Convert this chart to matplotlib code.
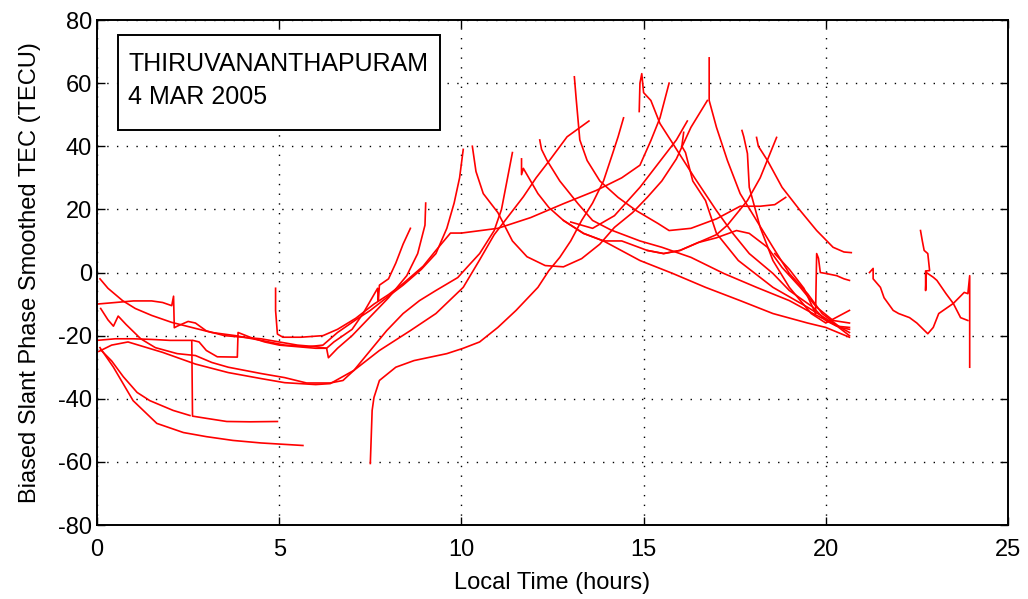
import matplotlib.pyplot as plt
from matplotlib.patches import Rectangle

plt.rcParams['font.family'] = ['Liberation Sans', 'DejaVu Sans']
plt.rcParams['axes.unicode_minus'] = False

station = 'THIRUVANANTHAPURAM'
date_str = '4 MAR 2005'

# slant TEC passes, local time (hours) vs TEC (TECU)
t_p01 = [0.08, 0.3, 0.7, 1.05, 1.5, 2.05, 2.7, 3.15, 3.8, 4.5, 5.15, 5.8, 6.2, 6.6, 7.1, 7.5, 8.0, 8.4, 8.9, 9.3, 9.6, 9.8, 9.95, 10.05]
tec_p01 = [-2, -5, -8.9, -11.4, -13.6, -15.8, -17.7, -19, -20, -21.5, -23, -23.5, -23, -19, -15, -12, -7.5, -4, 1, 6, 14, 22, 30, 39]

t_p02 = [4.9, 4.9, 4.95, 5.1, 5.6, 6.2, 6.6, 7.1, 7.6, 8.0, 8.4, 8.95, 9.3, 9.7, 10.0, 11.0, 11.9, 12.8, 13.7, 14.4, 14.9, 15.2, 15.45, 15.7]
tec_p02 = [-5, -12, -19.5, -20.5, -20.5, -20, -18, -14.5, -10, -7, -3.5, 2, 7, 12.5, 12.5, 14, 17.4, 21.8, 26, 30, 34, 41.8, 49, 60]

t_p03 = [0, 0.5, 1, 1.5, 1.8, 2.05, 2.1, 2.12, 2.2, 2.5, 2.7, 3, 3.5, 4, 4.5, 5, 5.5, 6, 6.3, 6.5, 7, 7.3, 7.7, 7.72, 7.75, 8, 8.2, 8.4, 8.6]
tec_p03 = [-10, -9.5, -9, -9, -9.5, -10.5, -7.5, -17.5, -17, -15.5, -16, -18.5, -20, -20.5, -21, -22, -23, -23.5, -24, -22, -18, -13, -5, -9, -4, -2, 3, 9, 14]

t_p04 = [0, 0.5, 1, 1.5, 2, 2.6, 2.62, 3, 3.56, 4.2, 4.95]
tec_p04 = [-21.5, -21, -21, -21.2, -21.5, -21.5, -45.5, -46.2, -47.2, -47.3, -47.2]

t_p05 = [0.1, 0.4, 0.72, 1.1, 1.45, 2.09, 2.55]
tec_p05 = [-24.5, -28, -33, -38, -40.6, -43.7, -45.3]

t_p06 = [2.63, 2.8, 3.0, 3.3, 3.85, 3.87, 4.2, 4.6, 5.0, 5.5, 6.0, 6.3, 6.35, 6.6, 7.0, 7.5, 8.0, 8.5, 8.8, 9.0, 9.02]
tec_p06 = [-21.5, -22, -24.7, -26.7, -26.8, -19, -20.5, -22, -23, -23.5, -24, -24, -27, -24, -20, -14, -8, -1, 6, 15, 22]

t_p07 = [0.08, 0.45, 0.99, 1.64, 2.37, 3.0, 3.73, 4.5, 5.65]
tec_p07 = [-23.8, -30, -40.6, -47.8, -50.7, -52, -53.2, -54, -54.8]

t_p08 = [0.1, 0.3, 0.45, 0.58, 0.8, 1.2, 1.6, 2.2, 2.7, 3.15, 3.6, 4.05, 4.5, 5.15, 5.75, 6.4, 6.75, 7.05, 7.5, 7.95, 8.4, 8.85, 9.3, 9.9, 10.15, 10.5, 10.9, 11.1, 11.25, 11.4]
tec_p08 = [-11.4, -15, -17, -13.8, -16.5, -21, -23.8, -25.7, -26.3, -28.5, -30, -31, -32, -33.3, -35, -35, -34.2, -31, -24.7, -18.4, -13, -8.9, -5.7, -1.6, 1.6, 6, 13.3, 20, 29, 38]

t_p09 = [0.05, 0.4, 0.85, 1.8, 2.7, 3.6, 4.5, 5.15, 6.0, 6.4, 7.05, 7.75, 8.6, 9.3, 10.05, 10.5, 10.9, 11.3, 11.7, 12.05, 12.45, 12.9, 13.5]
tec_p09 = [-25, -23, -22, -25.3, -29, -31.7, -33.6, -34.9, -35.5, -35.2, -31, -24.7, -18.4, -13, -4.7, 4, 12, 18, 24, 30, 36, 43, 48]

t_p10 = [7.5, 7.55, 7.6, 7.75, 8.2, 8.7, 9.6, 10.05, 10.5, 11, 11.5, 12.1, 12.4, 12.7, 13, 13.3, 13.6, 13.9, 14.15, 14.3, 14.45]
tec_p10 = [-60.5, -43.7, -39.6, -34.2, -30, -27.9, -25.7, -24, -22, -17.4, -12, -4.7, 0.6, 4.8, 10, 16.5, 22, 29, 37.7, 43, 49]

t_p11 = [10.3, 10.4, 10.6, 11, 11.4, 11.8, 12.3, 12.8, 13.3, 13.8, 14.2, 14.7, 15.1, 15.5, 15.9, 16.3, 16.75]
tec_p11 = [40, 32, 25, 19, 10, 5, 2.2, 1.8, 4.4, 9, 14.3, 19, 23.8, 29, 36, 46, 54.5]

t_p12 = [11.65, 11.65, 11.7, 11.8, 12.1, 12.4, 12.8, 13.35, 13.9, 14.4, 15.1, 15.55, 16, 16.5, 17, 17.55, 17.9, 18.4, 18.8, 19.3, 19.75, 20.2, 20.65]
tec_p12 = [36, 31, 33, 31, 25, 20.6, 16.5, 12.4, 10, 10, 7, 6, 7, 9.5, 11, 13.3, 12.4, 8, 1.6, -4.7, -11, -15.2, -16]

t_p13 = [12.15, 12.2, 12.35, 12.7, 13.2, 13.6, 14.1, 14.9, 15.5, 16.3, 17.2, 18.1, 19, 19.65, 20.4, 20.65]
tec_p13 = [42, 39, 35.5, 29, 21.8, 16.5, 13.5, 10, 8, 4.8, -0.3, -4.7, -8.9, -13, -17.4, -19]

t_p14 = [13.1, 13.15, 13.25, 13.45, 13.8, 14.3, 14.8, 15.4, 15.7, 16.3, 17, 17.65, 18.2, 18.6, 18.9]
tec_p14 = [62, 55, 42, 35.5, 29, 23.8, 19.6, 15.5, 13.3, 14, 17, 21, 21, 21.5, 23.8]

t_p15 = [14.88, 14.9, 14.95, 15.0, 15.2, 15.45, 15.8, 16.4, 17, 17.45, 17.9, 18.55, 19, 19.65, 20, 20.3, 20.65]
tec_p15 = [51, 60, 63, 57, 54.5, 47.2, 40.9, 30, 19.6, 12.4, 6, -0.3, -5.7, -11, -15.2, -17, -17.4]

t_p16 = [16.1, 16.05, 16.15, 16.35, 16.7, 17, 17.6, 18.55, 19.5, 20.2, 20.65]
tec_p16 = [44.4, 40, 38, 29, 22.8, 12.4, 3.8, -4.7, -11, -16, -20]

t_p17 = [16.8, 16.8, 17, 17.3, 17.65, 18.1, 18.55, 19, 19.5, 19.9, 20.4, 20.65]
tec_p17 = [68, 54.5, 46, 35.5, 25, 16.5, 8, -0.3, -6.7, -13, -17.4, -18]

t_p18 = [17.7, 17.75, 17.85, 17.9, 18.2, 18.55, 19, 19.6, 20, 20.65]
tec_p18 = [45, 43, 37.7, 27, 14.3, 3.8, -4.7, -13, -16, -12]

t_p19 = [18.1, 18.15, 18.4, 18.8, 19.3, 19.75, 20.2, 20.5, 20.7]
tec_p19 = [42.8, 40, 35.5, 27, 19.6, 13.3, 8, 6.5, 6.3]

t_p20 = [15.1, 15.55, 16, 16.5, 17, 17.3, 17.85, 18.2, 18.65]
tec_p20 = [7, 6, 7, 9.5, 12, 15, 22.8, 30, 42.8]

t_p21 = [13.0, 13.6, 14.2, 14.9, 15.5, 15.9, 16.2]
tec_p21 = [16, 14, 18, 27, 36, 42, 48]

t_p22 = [12.8, 13.35, 13.9, 14.9, 15.8, 16.7, 17.65, 18.55, 19.5, 20, 20.65]
tec_p22 = [16.5, 12.4, 10, 3.8, -0.3, -4.7, -8.9, -13, -16, -17.4, -20.5]

t_p23 = [18.6, 19.0, 19.4, 19.72, 19.75, 19.8, 19.85, 20.0, 20.3, 20.5, 20.65]
tec_p23 = [6, 1, -5, -13, 6, 4.5, 0, -0.3, -1, -2, -2.5]

t_p24 = [21.2, 21.3, 21.3, 21.5, 21.6, 21.85, 22.0, 22.3, 22.5, 22.8, 22.95, 23.1, 23.3, 23.5, 23.8, 23.9, 23.95, 23.95]
tec_p24 = [0, 1.3, -2, -4.7, -8, -12, -13, -14.3, -16, -19.4, -17.4, -13, -11.4, -9.8, -6.3, -6.7, -1, -30]

t_p25 = [22.6, 22.65, 22.7, 22.8, 22.85, 22.74, 22.74, 22.76, 22.95, 23.05, 23.3, 23.5, 23.7, 23.9]
tec_p25 = [13.3, 10, 7, 6, 0.6, 0.5, -5.7, 0, -1.5, -2.5, -6.7, -9.8, -14.3, -15.2]

passes = [
    (t_p01, tec_p01), (t_p02, tec_p02), (t_p03, tec_p03), (t_p04, tec_p04), (t_p05, tec_p05),
    (t_p06, tec_p06), (t_p07, tec_p07), (t_p08, tec_p08), (t_p09, tec_p09), (t_p10, tec_p10),
    (t_p11, tec_p11), (t_p12, tec_p12), (t_p13, tec_p13), (t_p14, tec_p14), (t_p15, tec_p15),
    (t_p16, tec_p16), (t_p17, tec_p17), (t_p18, tec_p18), (t_p19, tec_p19), (t_p20, tec_p20),
    (t_p21, tec_p21), (t_p22, tec_p22), (t_p23, tec_p23), (t_p24, tec_p24), (t_p25, tec_p25),
]

fig = plt.figure(figsize=(10.28, 5.99), dpi=100)
ax = fig.add_axes([0.0944, 0.1235, 0.8861, 0.8431])

for t, tec in passes:
    ax.plot(t, tec, color='red', linewidth=1.2)

ax.set_xlim(0, 25)
ax.set_ylim(-80, 80)
ax.set_xticks(range(0, 26, 5))
ax.set_yticks(range(-80, 81, 20))
ax.grid(True, color='black', linestyle=(0, (1, 6)), linewidth=1.0)
ax.tick_params(direction='in', length=6, width=1, top=True, right=True, labelsize=17)
ax.tick_params(axis='x', pad=10)
for s in ax.spines.values():
    s.set_linewidth(1.4)

ax.set_xlabel('Local Time (hours)', fontsize=17, labelpad=8)
ax.set_ylabel('Biased Slant Phase Smoothed TEC (TECU)', fontsize=17, labelpad=12)

# station / date box
ax.add_patch(Rectangle((0.023, 0.782), 0.3535, 0.188, transform=ax.transAxes,
                       facecolor='white', edgecolor='black', linewidth=1.4, zorder=5))
ax.text(0.034, 0.912, station, transform=ax.transAxes, fontsize=18, va='center', zorder=6)
ax.text(0.034, 0.847, date_str, transform=ax.transAxes, fontsize=18, va='center', zorder=6)

plt.savefig('out.png', dpi=100)
